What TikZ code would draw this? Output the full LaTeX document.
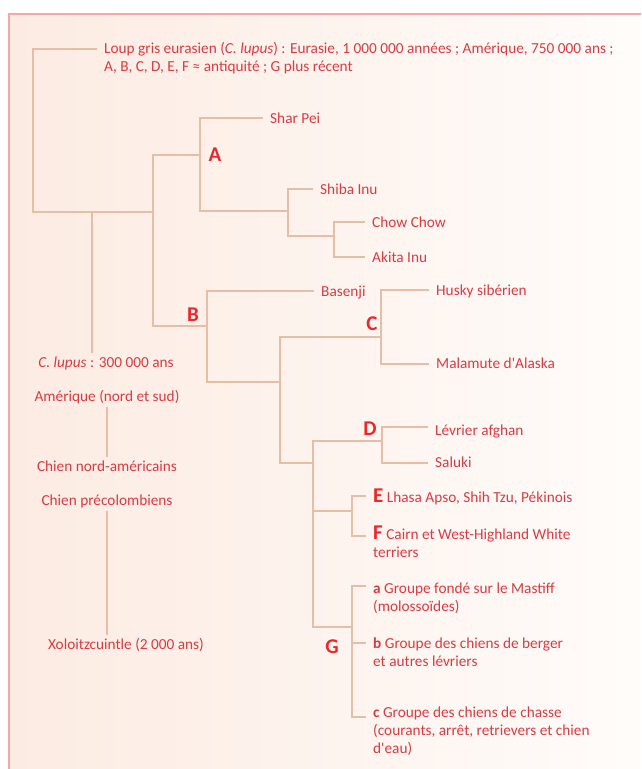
\documentclass[tikz,border=0pt]{standalone}
\usepackage{fontspec}
\setmainfont{Carlito}
\definecolor{txtred}{RGB}{214,60,68}
\definecolor{labred}{RGB}{236,38,42}
\definecolor{branchcol}{RGB}{230,190,168}
\definecolor{framecol}{RGB}{246,168,168}
\definecolor{bgleft}{RGB}{252,235,226}
\definecolor{bgright}{RGB}{255,252,250}
\newcommand{\cladeletter}[1]{{\color{labred}\fontsize{21}{18}\bfseries\selectfont #1}}

\begin{document}
\begin{tikzpicture}[x=1pt, y=-1pt,
    txt/.style={text=txtred, font=\fontsize{15.3}{18}\selectfont},
    leaf/.style={txt, anchor=base west, inner xsep=7pt, inner ysep=0pt, align=left},
    coltxt/.style={txt, anchor=base, inner sep=3pt},
    clade/.style={text=labred, font=\fontsize{21}{21}\bfseries\selectfont, inner sep=0pt},
    branche/.style={draw=branchcol, line width=1.2pt}]
    \useasboundingbox (0,0) rectangle (641,769);

    % 背景
    \fill[white] (0,0) rectangle (641,769);
    \shade[left color=bgleft, right color=bgright] (9,14) rectangle (641,769);
    \draw[framecol, line width=2pt] (9,769) -- (9,14) -- (641,14);

    % ノード（複数行のノードは最終行が base）
    \node[leaf] (loup) at (97,71) {Loup gris eurasien (\textit{C. lupus}) : Eurasie, 1 000 000 années ; Amérique, 750 000 ans ;\\A, B, C, D, E, F ≈ antiquité ; G plus récent};
    \node[leaf] (sharpei) at (263,123) {Shar Pei};
    \node[leaf] (shiba) at (313,194) {Shiba Inu};
    \node[leaf] (chow) at (365,227) {Chow Chow};
    \node[leaf] (akita) at (365,262) {Akita Inu};
    \node[leaf] (basenji) at (314,296) {Basenji};
    \node[leaf] (husky) at (429,295) {Husky sibérien};
    \node[leaf] (malamute) at (429,368) {Malamute d\textquotesingle Alaska};
    \node[leaf] (levrier) at (428,435) {Lévrier afghan};
    \node[leaf] (saluki) at (428,467) {Saluki};
    \node[leaf] (lhasa) at (366,502) {\cladeletter{E} Lhasa Apso, Shih Tzu, Pékinois};
    \node[leaf] (cairn) at (366,557) {\cladeletter{F} Cairn et West-Highland White\\terriers};
    \node[leaf] (groupa) at (366,611) {\textbf{a} Groupe fondé sur le Mastiff\\(molossoïdes)};
    \node[leaf] (groupb) at (366,666) {\textbf{b} Groupe des chiens de berger\\et autres lévriers};
    \node[leaf] (groupc) at (366,753) {\textbf{c} Groupe des chiens de chasse\\(courants, arrêt, retrievers et chien\\d\textquotesingle eau)};

    \node[coltxt] (lupus) at (106,367) {\textit{C. lupus} : 300 000 ans};
    \node[coltxt] (amer) at (107,401) {Amérique (nord et sud)};
    \node[coltxt] (chnord) at (107,471) {Chien nord-américains};
    \node[coltxt] (preco) at (107,505) {Chien précolombiens};
    \node[coltxt] (xolo) at (126,649) {Xoloitzcuintle (2 000 ans)};

    \node[clade] (lblA) at (215,155) {A};
    \node[clade] (lblB) at (193,315) {B};
    \node[clade] (lblC) at (372,324) {C};
    \node[clade] (lblD) at (370,429) {D};
    \node[clade] (lblG) at (332,647) {G};

    % 分岐点
    \coordinate (n0) at (33,130);
    \coordinate (n1) at (153,212);
    \coordinate (drop) at (92,212);
    \coordinate (nA) at (200,155);
    \coordinate (nS) at (288,211);
    \coordinate (nCA) at (334,236);
    \coordinate (nB) at (207,326);
    \coordinate (nCD) at (280,382);
    \coordinate (nC) at (381,337);
    \coordinate (nDG) at (313,463);
    \coordinate (nD) at (382,441);
    \coordinate (nEF) at (352,511);
    \coordinate (nG) at (352,627);

    % エッジ
    \draw[branche] ([yshift=22pt]loup.base west) -| (n0) |- (n1);
    \draw[branche] (drop) -- (drop |- lupus.north);
    \draw[branche] (nA) -| (n1) |- (nB);
    \draw[branche] ([yshift=5pt]sharpei.base west) -| (nA) |- (nS);
    \draw[branche] ([yshift=5pt]shiba.base west) -| (nS) |- (nCA);
    \draw[branche] ([yshift=5pt]chow.base west) -| (nCA) |- ([yshift=5pt]akita.base west);
    \draw[branche] ([yshift=5pt]basenji.base west) -| (nB) |- (nCD);
    \draw[branche] (nC) -| (nCD) |- (nDG);
    \draw[branche] ([yshift=5pt]husky.base west) -| (nC) |- ([yshift=4pt]malamute.base west);
    \draw[branche] (nD) -| (nDG) |- (nG);
    \draw[branche] (nEF) -| (nDG);
    \draw[branche] ([yshift=8pt]levrier.base west) -| (nD) |- ([yshift=4pt]saluki.base west);
    \draw[branche] ([yshift=6pt]lhasa.base west) -| (nEF) |- ([yshift=21pt]cairn.base west);
    \draw[branche] ([yshift=25pt]groupa.base west) -| (nG) |- ([yshift=36pt]groupc.base west);
    \draw[branche] ([yshift=23pt]groupb.base west) -| (nG);
    \draw[branche] (amer.south) -- (chnord.north);
    \draw[branche] (preco.south) -- (preco.south |- xolo.north);
\end{tikzpicture}
\end{document}
